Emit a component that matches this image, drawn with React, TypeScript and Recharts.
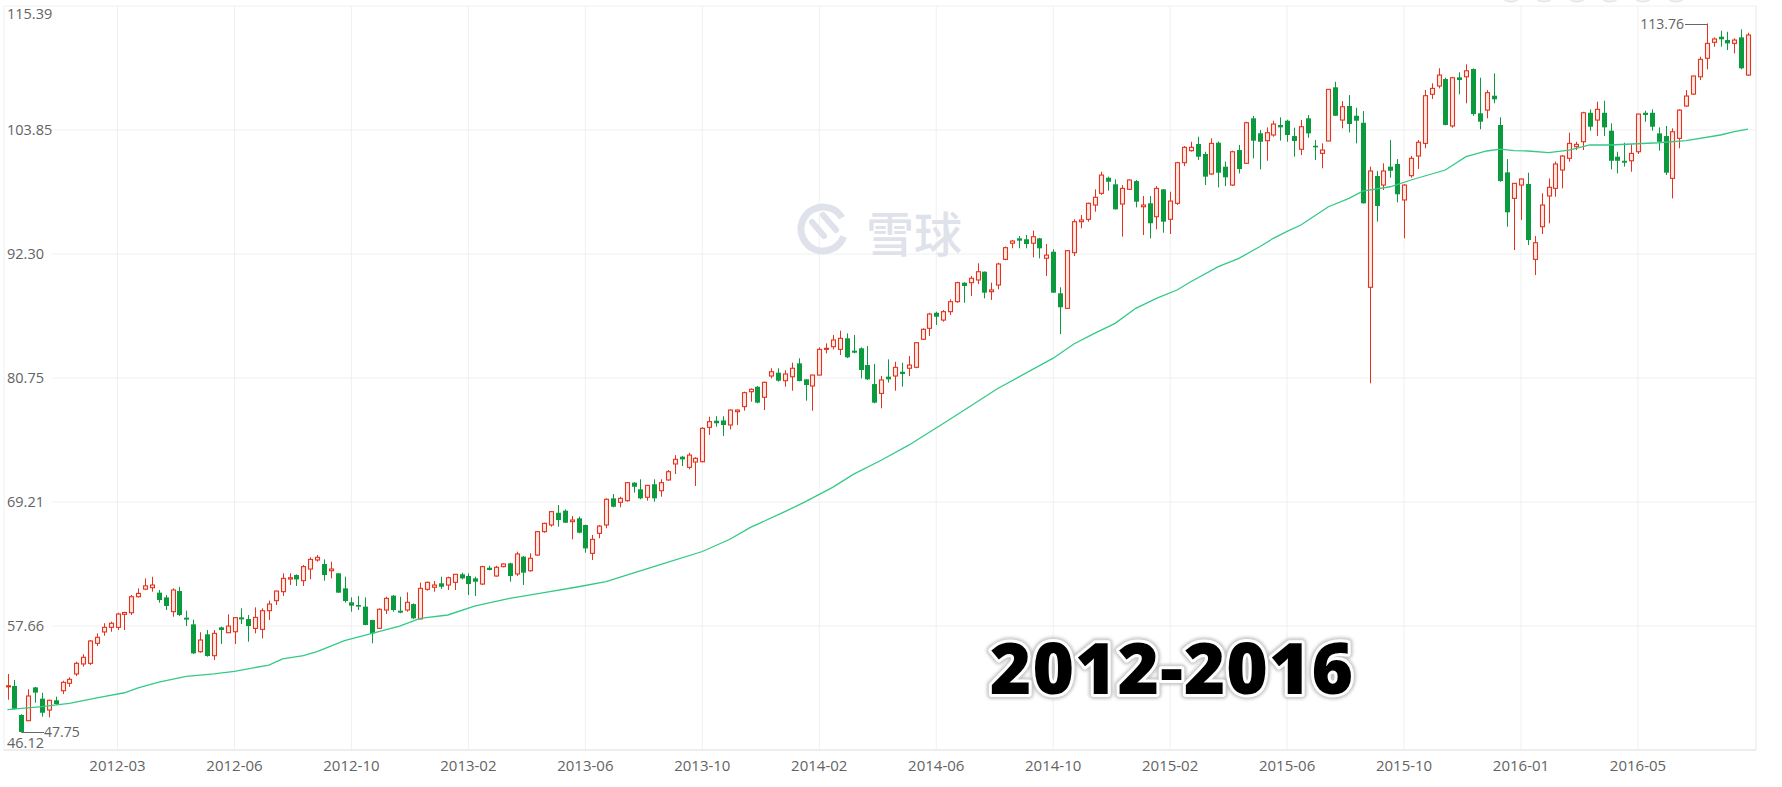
import React from 'react';
import { ComposedChart, Bar, Line, XAxis, YAxis, CartesianGrid } from 'recharts';

const openValues = [
  52.0, 52.08, 49.38, 48.85, 51.95, 50.9, 49.84, 50.75, 51.64, 52.33,
  53.2, 54.13, 54.19, 56.05, 57.11, 57.54, 57.54, 58.75, 58.9, 60.39,
  61.1, 61.23, 60.77, 60.33, 59.0, 60.92, 58.44, 57.82, 55.27, 56.89,
  54.9, 57.54, 57.04, 57.13, 58.47, 58.31, 57.44, 57.35, 59.09, 60.02,
  60.86, 62.04, 62.41, 61.88, 62.97, 63.81, 63.44, 62.81, 62.57, 61.17,
  59.87, 59.62, 59.47, 58.22, 57.45, 59.15, 60.49, 59.09, 59.15, 59.71,
  58.32, 61.08, 61.27, 61.64, 61.48, 61.73, 62.48, 62.32, 62.1, 61.57,
  63.09, 62.32, 63.19, 63.5, 62.51, 64.12, 62.81, 64.27, 66.45, 67.07,
  68.21, 68.4, 67.38, 67.69, 67.07, 64.43, 66.29, 67.07, 69.55, 69.18,
  69.33, 71.01, 70.39, 69.65, 70.86, 70.26, 71.26, 72.75, 73.43, 72.44,
  72.93, 72.96, 76.16, 76.78, 76.8, 76.38, 77.62, 78.09, 79.48, 79.94,
  78.96, 80.94, 81.25, 80.5, 80.87, 82.12, 80.63, 80.01, 81.03, 83.42,
  83.67, 83.42, 84.45, 83.3, 83.52, 81.96, 80.19, 79.32, 80.88, 80.94,
  81.34, 81.66, 81.75, 84.36, 85.38, 86.83, 86.15, 86.93, 87.86, 89.63,
  89.63, 89.88, 90.65, 88.79, 89.41, 91.8, 93.3, 93.76, 93.67, 93.3,
  93.76, 91.9, 92.51, 88.64, 87.24, 92.42, 95.31, 95.53, 96.86, 97.95,
  99.4, 98.79, 96.95, 98.32, 99.09, 96.7, 97.02, 95.77, 98.32, 95.53,
  97.02, 100.8, 101.92, 102.54, 101.61, 99.75, 102.66, 100.43, 98.72, 101.98,
  100.74, 104.93, 103.54, 102.85, 103.38, 104.31, 104.71, 103.28, 102.05, 104.93,
  102.38, 101.67, 102.82, 107.82, 104.77, 106.08, 105.17, 104.52, 89.2, 99.56,
  98.72, 100.43, 100.68, 97.33, 99.59, 101.42, 102.6, 107.17, 107.94, 108.59,
  104.22, 108.75, 108.8, 109.52, 105.4, 105.7, 107.04, 104.31, 99.9, 97.48,
  98.72, 98.82, 91.8, 94.84, 97.7, 98.41, 100.12, 101.21, 102.29, 102.75,
  105.45, 104.77, 105.45, 103.78, 101.36, 100.98, 100.98, 101.82, 105.45, 105.45,
  103.53, 103.28, 99.34, 103.07, 106.08, 107.19, 108.8, 110.52, 112.01, 112.53,
  112.22, 111.91, 112.47, 108.96,
];

const highValues = [
  53.2, 52.64, 49.45, 51.77, 52.0, 51.45, 50.8, 51.08, 52.57, 52.89,
  54.34, 55.03, 56.36, 56.98, 57.92, 58.06, 58.9, 58.99, 60.55, 61.17,
  62.1, 62.25, 61.02, 60.55, 61.17, 61.32, 59.09, 58.26, 57.08, 57.29,
  57.29, 57.6, 58.75, 58.5, 59.31, 58.69, 59.4, 59.31, 60.02, 60.95,
  62.57, 62.57, 62.47, 63.34, 64.06, 64.27, 63.87, 63.65, 62.6, 62.26,
  60.33, 60.46, 60.33, 58.24, 59.31, 60.39, 60.55, 60.39, 60.8, 59.77,
  61.7, 61.8, 61.85, 62.26, 62.26, 62.5, 62.63, 62.57, 62.26, 63.28,
  63.28, 63.28, 63.5, 63.56, 64.58, 64.18, 64.43, 66.51, 67.28, 68.37,
  68.93, 68.53, 67.91, 67.85, 67.1, 66.14, 67.07, 69.56, 69.95, 69.7,
  71.05, 71.05, 71.32, 70.8, 71.32, 71.32, 72.19, 73.58, 73.5, 73.8,
  73.38, 76.17, 77.15, 77.2, 77.2, 77.83, 77.83, 79.48, 79.79, 80.0,
  80.42, 81.66, 81.66, 81.47, 82.18, 82.59, 80.65, 81.05, 83.61, 83.98,
  84.76, 85.16, 84.91, 84.76, 83.61, 83.73, 82.06, 80.94, 82.49, 82.27,
  82.18, 82.8, 84.06, 85.38, 86.83, 86.93, 87.08, 88.08, 89.72, 89.66,
  90.25, 91.43, 90.68, 89.63, 91.49, 93.0, 93.6, 93.97, 94.07, 94.47,
  93.8, 93.23, 92.74, 89.2, 92.65, 95.53, 95.93, 97.08, 98.32, 99.96,
  99.5, 99.25, 98.72, 99.25, 99.19, 97.7, 97.7, 98.63, 98.35, 98.1,
  100.89, 102.35, 102.75, 103.22, 101.82, 103.07, 102.77, 100.89, 101.92, 102.45,
  104.62, 105.15, 103.84, 104.09, 104.71, 105.02, 104.8, 104.06, 104.77, 105.24,
  102.91, 102.6, 107.66, 108.34, 106.54, 107.1, 105.92, 105.61, 100.43, 100.03,
  100.74, 102.91, 101.14, 98.8, 101.42, 102.91, 107.57, 108.19, 109.59, 108.71,
  108.8, 109.21, 109.96, 109.58, 108.71, 107.57, 109.12, 105.02, 101.14, 98.9,
  99.34, 99.87, 93.97, 97.95, 99.34, 100.89, 101.51, 103.59, 102.75, 105.54,
  105.77, 106.48, 106.57, 104.47, 101.82, 102.66, 102.54, 105.36, 105.64, 105.77,
  104.09, 104.22, 104.0, 105.77, 107.57, 108.9, 110.67, 113.76, 112.47, 113.09,
  112.99, 112.38, 113.22, 112.9,
];

const lowValues = [
  50.8, 49.9, 47.75, 48.8, 50.52, 49.22, 49.16, 50.32, 51.33, 52.0,
  53.0, 53.88, 54.03, 55.8, 56.76, 57.13, 57.29, 57.29, 58.69, 60.32,
  61.0, 60.86, 59.83, 59.15, 58.53, 58.6, 57.66, 55.05, 55.18, 54.81,
  54.5, 55.99, 57.0, 55.99, 57.85, 56.2, 56.98, 56.52, 58.22, 59.62,
  60.46, 61.48, 61.39, 61.39, 62.01, 63.65, 61.88, 62.1, 60.75, 59.84,
  59.0, 59.15, 57.74, 56.05, 57.4, 58.78, 59.0, 58.85, 59.0, 58.3,
  58.3, 60.95, 60.86, 61.11, 61.02, 61.02, 62.01, 60.55, 60.46, 61.48,
  62.85, 62.26, 63.13, 61.79, 62.32, 61.48, 62.72, 64.18, 66.35, 66.91,
  66.91, 67.26, 65.73, 66.29, 64.49, 63.81, 65.83, 66.76, 68.71, 68.71,
  69.24, 70.08, 69.46, 69.33, 69.24, 69.7, 71.2, 71.82, 72.56, 72.25,
  70.7, 72.9, 75.45, 76.22, 75.35, 75.97, 76.38, 77.71, 78.55, 78.4,
  77.77, 80.73, 80.42, 79.94, 79.57, 80.45, 78.64, 77.71, 81.0, 83.05,
  83.42, 82.89, 82.6, 83.05, 80.72, 80.57, 78.4, 77.93, 80.32, 79.57,
  79.94, 80.94, 81.66, 84.29, 84.66, 85.69, 86.0, 86.62, 87.76, 87.76,
  88.39, 89.5, 88.17, 88.02, 89.01, 91.72, 92.83, 92.83, 92.83, 91.99,
  91.9, 90.25, 88.68, 84.85, 87.2, 92.11, 94.69, 95.31, 96.24, 97.8,
  98.19, 96.44, 93.91, 98.26, 96.64, 94.07, 93.76, 94.6, 94.28, 94.16,
  96.86, 100.49, 101.83, 101.05, 98.72, 99.65, 98.51, 98.63, 98.63, 99.81,
  100.68, 101.21, 100.18, 100.98, 103.22, 102.85, 102.75, 101.36, 101.51, 103.12,
  101.05, 100.28, 102.8, 105.15, 104.0, 103.62, 102.6, 97.0, 80.26, 95.31,
  98.26, 99.4, 97.11, 93.76, 99.4, 100.21, 102.14, 106.73, 107.72, 104.28,
  104.06, 107.17, 106.33, 105.17, 103.91, 104.93, 106.33, 99.03, 94.84, 92.67,
  95.46, 93.13, 90.34, 94.16, 95.15, 97.63, 98.41, 100.89, 101.98, 101.98,
  103.78, 103.28, 103.28, 100.18, 99.81, 100.43, 99.96, 101.61, 104.61, 103.78,
  101.92, 99.65, 97.48, 102.14, 106.0, 107.1, 108.5, 109.49, 111.6, 111.6,
  111.29, 110.98, 109.5, 108.87,
];

const closeValues = [
  52.1, 49.95, 47.8, 51.15, 51.46, 49.59, 50.75, 50.4, 52.42, 52.7,
  54.19, 54.75, 56.27, 56.61, 57.54, 57.92, 58.78, 58.92, 60.39, 60.7,
  61.4, 61.48, 60.08, 59.53, 61.02, 58.69, 58.26, 55.12, 56.36, 54.87,
  56.98, 57.29, 57.66, 58.44, 58.28, 57.66, 58.47, 59.09, 59.71, 60.92,
  62.1, 62.16, 62.0, 63.19, 63.87, 64.06, 62.41, 62.97, 60.77, 59.99,
  59.56, 59.47, 57.76, 56.98, 59.22, 60.24, 59.15, 58.91, 59.87, 58.38,
  61.17, 61.73, 61.48, 61.32, 62.16, 62.48, 62.1, 61.57, 61.79, 63.19,
  62.88, 63.13, 63.44, 62.32, 64.37, 62.63, 63.97, 66.45, 67.22, 68.31,
  67.53, 67.28, 67.53, 66.35, 64.89, 65.73, 66.97, 69.46, 68.77, 69.55,
  71.01, 70.63, 69.55, 70.76, 69.55, 71.01, 72.03, 73.18, 73.18, 73.58,
  73.28, 76.07, 76.69, 76.54, 76.38, 77.77, 77.77, 79.39, 79.7, 78.46,
  80.35, 81.34, 80.5, 81.13, 81.66, 80.47, 80.1, 81.03, 83.42, 83.52,
  84.29, 84.45, 82.68, 83.11, 81.5, 80.63, 78.46, 80.57, 80.63, 81.75,
  81.13, 81.96, 84.04, 85.29, 86.71, 86.46, 86.93, 87.86, 89.63, 89.32,
  90.04, 90.65, 88.7, 88.95, 91.37, 92.89, 93.51, 93.54, 93.23, 93.91,
  92.83, 92.2, 88.7, 87.34, 92.61, 95.31, 95.47, 97.02, 97.58, 99.65,
  99.03, 96.46, 98.41, 99.19, 97.17, 96.86, 95.16, 98.41, 95.31, 97.23,
  100.8, 102.23, 102.23, 101.36, 99.5, 102.6, 99.87, 99.44, 101.82, 100.21,
  104.52, 102.85, 102.75, 103.59, 104.4, 104.09, 103.38, 102.82, 104.15, 103.53,
  102.23, 101.98, 107.63, 105.17, 106.01, 104.4, 104.71, 97.02, 100.03, 96.77,
  100.03, 100.05, 97.86, 98.72, 101.21, 102.7, 107.04, 107.72, 108.96, 104.31,
  108.71, 108.5, 109.36, 105.33, 104.62, 107.32, 106.7, 99.09, 96.18, 98.88,
  99.28, 93.6, 93.35, 96.86, 98.51, 100.68, 101.42, 102.6, 102.51, 105.45,
  104.15, 105.77, 104.09, 100.98, 100.98, 100.8, 101.67, 105.33, 105.24, 104.15,
  102.75, 99.87, 103.68, 105.7, 107.01, 108.87, 110.42, 111.91, 112.32, 112.29,
  111.91, 112.22, 109.59, 112.69,
];

// moving-average line, read at sample candles
const maIndex = [
  0, 5, 9, 13, 17, 19, 22, 26, 30, 33, 38, 40, 43, 45, 49, 53, 57, 60, 64, 68,
  73, 78, 83, 87, 90, 95, 101, 105, 108, 113, 116, 120, 123, 127, 131, 134, 137, 144, 152, 155,
  158, 161, 164, 167, 170, 172, 176, 179, 182, 184, 186, 188, 192, 195, 197, 201, 204, 209, 212, 215,
  217, 219, 221, 224, 227, 230, 233, 236, 240, 244, 249, 251, 253,
];
const maValues = [
  49.88, 50.15, 50.47, 50.97, 51.45, 51.9, 52.45, 52.98, 53.2, 53.45, 54.03, 54.6, 54.9, 55.27, 56.3, 56.98, 57.66, 58.38, 58.69, 59.53,
  60.24, 60.77, 61.32, 61.79, 62.41, 63.4, 64.6, 65.74, 66.85, 68.31, 69.24, 70.6, 71.8, 73.1, 74.5, 75.7, 76.91, 79.8, 82.6, 83.92,
  84.91, 85.84, 87.24, 88.17, 88.95, 89.72, 91.12, 91.9, 92.98, 93.76, 94.4, 95.0, 96.7, 97.48, 98.16, 98.56, 99.19, 100.12, 101.36, 101.89,
  102.07, 101.92, 101.89, 101.73, 101.98, 102.45, 102.45, 102.54, 102.66, 102.85, 103.38, 103.69, 103.92,
];

const xTickIndex = [16, 33, 50, 67, 84, 101, 118, 135, 152, 169, 186, 203, 220, 237];
const xTickLabels = [
  '2012-03', '2012-06', '2012-10', '2013-02', '2013-06', '2013-10', '2014-02',
  '2014-06', '2014-10', '2015-02', '2015-06', '2015-10', '2016-01', '2016-05',
];
const yTicks = [46.12, 57.66, 69.21, 80.75, 92.3, 103.85, 115.39];

const RED = '#e5321c';
const GREEN = '#0c9a3e';
const MA_COLOR = '#35c987';
const GRID = '#f0f0f0';
const LABEL = '#636363';
const FONT = "'Open Sans', 'Noto Sans', sans-serif";

const maxHigh = Math.max(...highValues);
const maxIdx = highValues.indexOf(maxHigh);
const minLow = Math.min(...lowValues);
const minIdx = lowValues.indexOf(minLow);

const data = openValues.map((o, i) => {
  const k = maIndex.indexOf(i);
  return {
    i,
    open: o,
    high: highValues[i],
    low: lowValues[i],
    close: closeValues[i],
    range: [lowValues[i], highValues[i]],
    ma: k >= 0 ? maValues[k] : null,
    mark: i === maxIdx ? 'max' : i === minIdx ? 'min' : null,
  };
});

const Candle = (props: any) => {
  const { x, y, width, height, payload } = props;
  if (!payload || x == null || y == null) return null;
  const { open, close, high, low, mark } = payload;
  const h = Math.abs(height);
  const top = height >= 0 ? y : y + height;
  const k = high - low > 0 ? h / (high - low) : 0;
  const yOf = (v: number) => top + (high - v) * k;
  const c = Math.round(x + width / 2);
  const up = close >= open;
  const color = up ? RED : GREEN;
  const bTop = yOf(Math.max(open, close));
  const bBot = yOf(Math.min(open, close));
  const bh = Math.max(bBot - bTop, 1);
  return (
    <g>
      <line x1={c + 0.5} x2={c + 0.5} y1={top} y2={top + h} stroke={color} strokeWidth={1} />
      {up ? (
        <rect x={c - 1.5} y={bTop} width={4} height={Math.max(bh, 1)} fill="#fdeae7" stroke={color} strokeWidth={1.1} />
      ) : (
        <rect x={c - 2} y={bTop} width={5} height={bh} fill={color} />
      )}
      {mark === 'max' && (
        <g>
          <line x1={c + 0.5} x2={c - 22} y1={Math.round(top) + 0.5} y2={Math.round(top) + 0.5} stroke="#666" strokeWidth={1} />
          <text x={c - 23} y={top + 5} textAnchor="end" fontSize={14} fill={LABEL} fontFamily={FONT}>
            {high.toFixed(2)}
          </text>
        </g>
      )}
      {mark === 'min' && (
        <g>
          <line x1={c + 0.5} x2={c + 23} y1={Math.round(top + h) + 0.5} y2={Math.round(top + h) + 0.5} stroke="#666" strokeWidth={1} />
          <text x={c + 23} y={top + h + 5} textAnchor="start" fontSize={14} fill={LABEL} fontFamily={FONT}>
            {low.toFixed(2)}
          </text>
        </g>
      )}
    </g>
  );
};

const YTick = (props: any) => {
  const { y, payload } = props;
  const v = payload.value;
  const isTop = v === yTicks[yTicks.length - 1];
  const isBottom = v === yTicks[0];
  const base = isTop ? y + 13 : isBottom ? y - 2 : y + 5;
  return (
    <g>
      {!isTop && !isBottom && <rect x={5} y={y - 8} width={47} height={16} fill="#fff" />}
      <text x={7} y={base} fontSize={14.5} fill={LABEL} fontFamily={FONT}>
        {v.toFixed(2)}
      </text>
    </g>
  );
};

const XTick = (props: any) => {
  const { x, y, payload } = props;
  const k = xTickIndex.indexOf(payload.value);
  return (
    <text x={x} y={y + 21} textAnchor="middle" fontSize={15} fill={LABEL} fontFamily={FONT}>
      {k >= 0 ? xTickLabels[k] : ''}
    </text>
  );
};

const Overlay = () => (
  <svg width={1782} height={787} style={{ position: 'absolute', left: 0, top: 0, pointerEvents: 'none' }}>
    <defs>
      <filter id="halo" x="-10%" y="-30%" width="120%" height="160%">
        <feGaussianBlur stdDeviation="1.6" />
      </filter>
    </defs>
    {[1511, 1544, 1577, 1610, 1643, 1676].map((cx) => (
      <circle key={cx} cx={cx} cy={-11} r={13} fill="#f1f1f1" stroke="#e2e2e2" />
    ))}
    <g>
      <circle cx={823} cy={229} r={22} fill="none" stroke="#dfe2ea" strokeWidth={7} strokeDasharray="118 20" transform="rotate(20 823 229)" />
      <path d="M 812 222 L 824 236 M 823 215 L 836 230" stroke="#dfe2ea" strokeWidth={6} strokeLinecap="round" fill="none" />
      <text x={914} y={231} textAnchor="middle" dominantBaseline="central" fontSize={48} fontWeight={500}
        fill="#dfe2ea" fontFamily="'Noto Sans CJK SC', sans-serif">雪球</text>
    </g>
    <text x={1172} y={694} textAnchor="middle" fontSize={71} fontWeight={800} letterSpacing={1}
      fontFamily={FONT} fill="#000" stroke="#9a9a9a" strokeWidth={10} strokeLinejoin="round"
      filter="url(#halo)" opacity={0.55}>2012-2016</text>
    <text x={1172} y={694} textAnchor="middle" fontSize={71} fontWeight={800} letterSpacing={1}
      fontFamily={FONT} fill="#000" stroke="#fff" strokeWidth={6} strokeLinejoin="round"
      style={{ paintOrder: 'stroke' }}>2012-2016</text>
  </svg>
);

export default function App() {
  return (
    <div style={{ position: 'absolute', left: 0, top: 0, width: 1782, height: 787, background: '#fff', overflow: 'hidden', fontFamily: FONT }}>
      <ComposedChart width={1782} height={787} data={data} margin={{ top: 6, right: 25, bottom: 0, left: 3 }}>
        <CartesianGrid stroke={GRID} vertical horizontal />
        <XAxis
          dataKey="i"
          type="category"
          ticks={xTickIndex}
          interval={0}
          height={37}
          padding={{ left: 0, right: 4.5 }}
          tickLine={false}
          tickSize={0}
          tickMargin={0}
          axisLine={{ stroke: '#e4e4e4' }}
          tick={<XTick />}
        />
        <YAxis
          domain={[yTicks[0], yTicks[yTicks.length - 1]]}
          ticks={yTicks}
          interval={0}
          width={1}
          axisLine={false}
          tickLine={false}
          tick={<YTick />}
          allowDataOverflow
        />
        <YAxis
          yAxisId="r"
          orientation="right"
          domain={[yTicks[0], yTicks[yTicks.length - 1]]}
          width={1}
          axisLine={{ stroke: GRID }}
          tickLine={false}
          tick={false}
        />
        <Bar dataKey="range" barSize={5} isAnimationActive={false} shape={(p: any) => <Candle {...p} />} />
        <Line dataKey="ma" type="linear" stroke={MA_COLOR} strokeWidth={1.3} dot={false} connectNulls isAnimationActive={false} activeDot={false} />
      </ComposedChart>
      <Overlay />
    </div>
  );
}
